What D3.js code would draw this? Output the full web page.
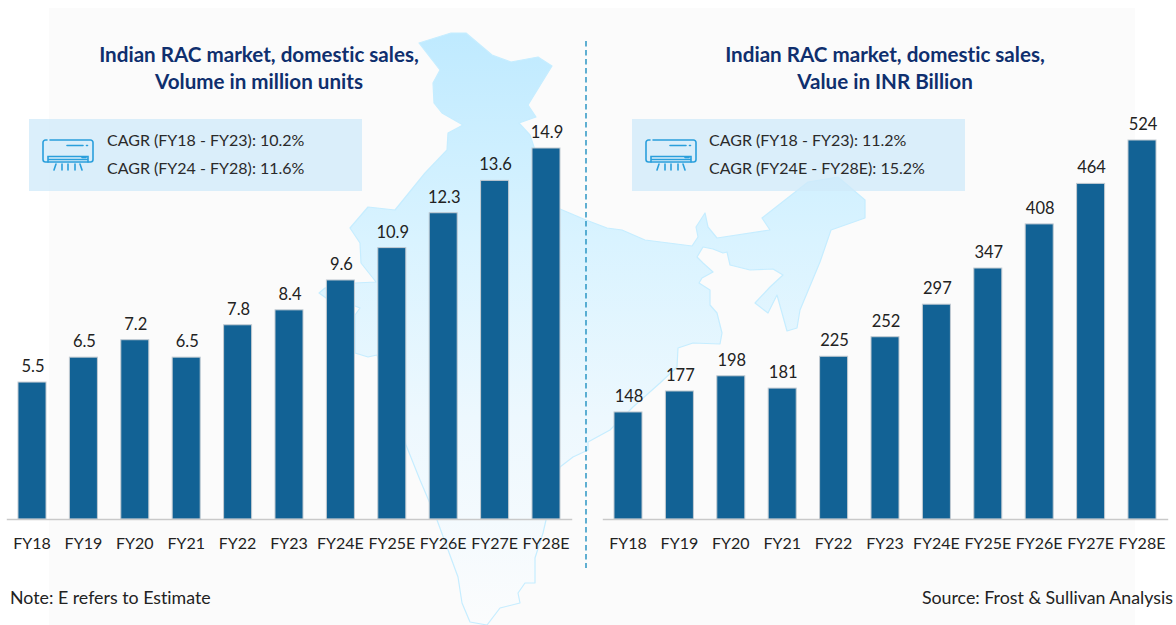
<!DOCTYPE html>
<html><head><meta charset="utf-8">
<script src="https://cdn.jsdelivr.net/npm/d3@7/dist/d3.min.js"></script>
<style>html,body{margin:0;padding:0;background:#fff}svg{display:block}text{font-family:Lato,"Open Sans",sans-serif;font-variant-ligatures:none}</style>
</head><body><div id="c"></div>
<script>
const categories=["FY18","FY19","FY20","FY21","FY22","FY23","FY24E","FY25E","FY26E","FY27E","FY28E"];
const volumeValues=[5.5,6.5,7.2,6.5,7.8,8.4,9.6,10.9,12.3,13.6,14.9];
const valueValues=[148,177,198,181,225,252,297,347,408,464,524];
const volumeLabels=["5.5","6.5","7.2","6.5","7.8","8.4","9.6","10.9","12.3","13.6","14.9"];
const valueLabels=["148","177","198","181","225","252","297","347","408","464","524"];
const leftTitle=["Indian RAC market, domestic sales,","Volume in million units"];
const rightTitle=["Indian RAC market, domestic sales,","Value in INR Billion"];
const leftCagr=["CAGR (FY18 - FY23): 10.2%","CAGR (FY24 - FY28): 11.6%"];
const rightCagr=["CAGR (FY18 - FY23): 11.2%","CAGR (FY24E - FY28E): 15.2%"];
const noteText="Note: E refers to Estimate";
const sourceText="Source: Frost & Sullivan Analysis";
// decorative backdrop outline of the map
const mapOutline=[[419,43],[451,33],[466,33],[492,55],[511,62],[538,57],[552,66],[528,105],[536,117],[519,123],[530,135],[545,180],[560,209],[586,220],[607,228],[622,230],[645,240],[692,246],[698,237],[696,227],[705,213],[708,227],[717,238],[770,230],[762,218],[808,182],[838,177],[865,200],[865,218],[831,230],[820,262],[800,310],[797,328],[787,331],[777,295],[768,313],[755,303],[770,287],[783,275],[773,269],[750,270],[730,265],[727,252],[723,253],[713,249],[703,247],[697,257],[703,263],[713,272],[702,278],[699,283],[710,290],[710,305],[717,313],[722,333],[720,344],[693,343],[678,348],[677,367],[660,383],[633,407],[610,430],[588,442],[588,450],[573,457],[560,467],[546,520],[543,533],[535,558],[535,583],[525,583],[518,593],[520,603],[500,608],[487,625],[470,622],[462,603],[458,577],[437,520],[420,480],[406,445],[377,355],[368,357],[355,353],[355,315],[360,308],[345,302],[326,298],[319,293],[325,288],[355,283],[376,282],[361,263],[360,243],[350,228],[368,207],[395,210],[425,173],[447,150],[448,133],[463,125],[442,113],[434,103],[433,83],[440,70]];

const W=1176,H=625,baseY=519;
const svg=d3.select("#c").append("svg").attr("width",W).attr("height",H);
const defs=svg.append("defs");
const g=defs.append("linearGradient").attr("id","mapFill").attr("gradientUnits","userSpaceOnUse").attr("x1",0).attr("x2",0).attr("y1",33).attr("y2",625);
[[0,"#bfeaff"],[0.35,"#d9f3ff"],[0.65,"#edf8fe"],[1,"#fbfcfd"]].forEach(s=>g.append("stop").attr("offset",s[0]).attr("stop-color",s[1]));

svg.append("rect").attr("x",49).attr("y",8).attr("width",1086).attr("height",617).attr("fill","#fbfbfb");
svg.append("path").attr("d",d3.line()(mapOutline)+"Z").attr("fill","url(#mapFill)").attr("stroke","#c6edff").attr("stroke-width",1.2).attr("stroke-linejoin","round");

function panel(vals,labels,rangeX,top,maxV,title,titleX,cagr,boxX,textX){
  const x=d3.scaleBand().domain(categories).range(rangeX).paddingInner(0.455).paddingOuter(0.2275);
  const y=d3.scaleLinear().domain([0,maxV]).range([baseY,top]);
  const G=svg.append("g");
  G.selectAll("rect.bar").data(categories).join("rect").attr("class","bar")
    .attr("x",d=>x(d)).attr("width",x.bandwidth())
    .attr("y",(d,i)=>y(vals[i])).attr("height",(d,i)=>baseY-y(vals[i]))
    .attr("fill","#126295").attr("stroke","#c3cbd2").attr("stroke-width",1);
  const ax=G.append("g").attr("transform",`translate(0,${baseY})`).call(d3.axisBottom(x).tickSize(0).tickPadding(19));
  ax.select(".domain").attr("stroke","#c9c9c9").attr("stroke-width",1.5);
  ax.selectAll("text").attr("font-size",16).attr("fill","#222").attr("font-family","Lato");
  G.selectAll("text.val").data(labels).join("text").attr("class","val")
    .attr("x",(d,i)=>x(categories[i])+x.bandwidth()/2+1)
    .attr("y",(d,i)=>y(vals[i])-10)
    .attr("text-anchor","middle").attr("font-size",16.5).attr("fill","#222").text(d=>d);
  title.forEach((t,i)=>G.append("text").attr("x",titleX).attr("y",62+i*27).attr("text-anchor","middle")
    .attr("font-size",20.6).attr("font-weight",700).attr("fill","#0f2f6e").text(t));
  G.append("rect").attr("x",boxX).attr("y",119).attr("width",333).attr("height",72).attr("fill","#cfe9fa").attr("fill-opacity",0.75);
  cagr.forEach((t,i)=>G.append("text").attr("x",textX).attr("y",146+i*28).attr("font-size",16).attr("fill","#2a2a2a").text(t));
  const ic=G.append("g").attr("transform",`translate(${boxX+13},139)`).attr("fill","none").attr("stroke","#2a9fdc").attr("stroke-width",1.6).attr("stroke-linecap","round");
  ic.append("path").attr("d","M8 1H48.5A2.5 2.5 0 0 1 51 3.500V20.500A2.500 2.500 0 0 1 48.500 23H3.500A2.500 2.500 0 0 1 1 20.500V3.500A2.500 2.500 0 0 1 3.500 1H5");
  ic.append("path").attr("d","M6 23V17.500H46V23M6 20.500H46M25 6.500H41M44.500 6.500H45.500M40 18.500H44");
  ic.append("path").attr("d","M12 31L14 25M20 31V25M26 31V25M33 31V25M40 31L38 25");
}
panel(volumeValues,volumeLabels,[6.3,571.7],148,14.9,leftTitle,259,leftCagr,29,107);
panel(valueValues,valueLabels,[602.3,1167.7],140,524,rightTitle,885,rightCagr,632,709);

svg.append("line").attr("x1",586).attr("x2",586).attr("y1",41).attr("y2",568).attr("stroke","#1e8fc0").attr("stroke-width",1.4).attr("stroke-dasharray","5.500 3.500");
svg.append("text").attr("x",10).attr("y",604).attr("font-size",17.8).attr("fill","#222").text(noteText);
svg.append("text").attr("x",1173).attr("y",604).attr("text-anchor","end").attr("font-size",17.8).attr("fill","#222").text(sourceText);
</script></body></html>
